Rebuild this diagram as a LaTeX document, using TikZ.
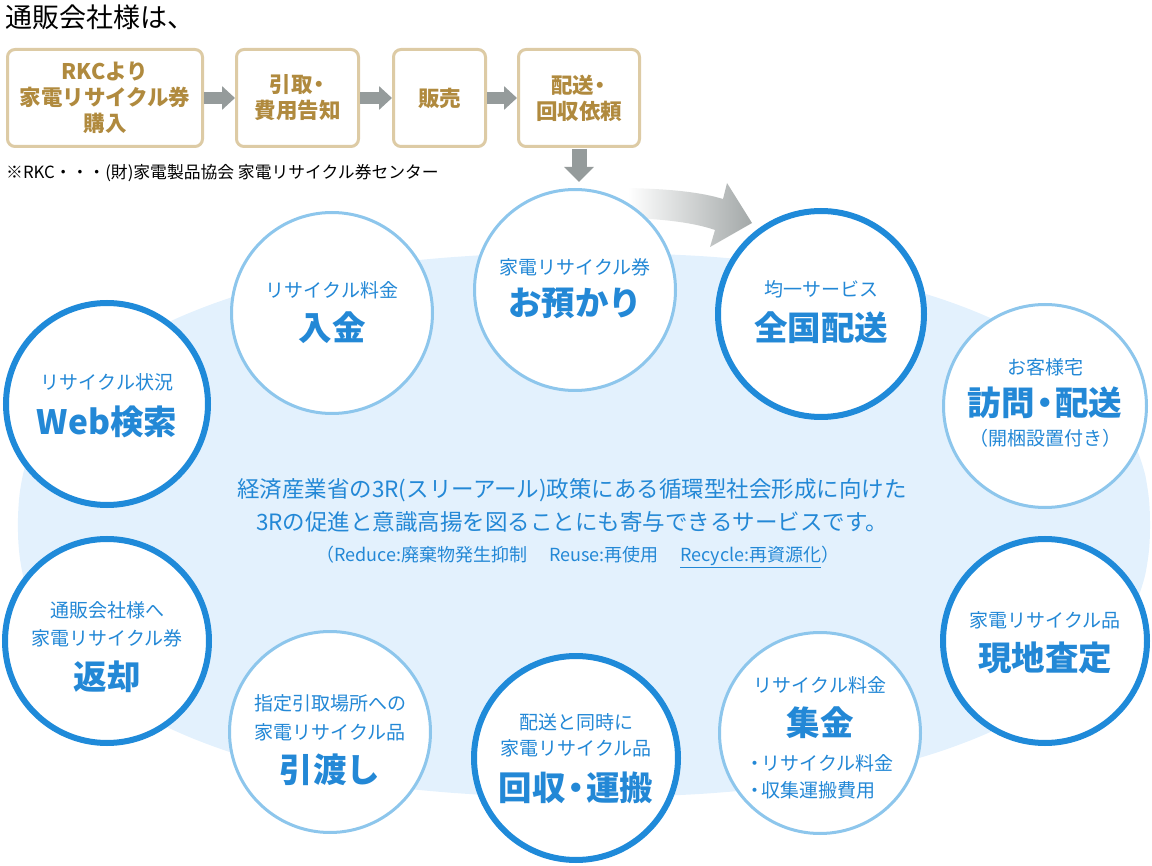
\documentclass[tikz,border=0pt]{standalone}
\usepackage{fontspec}
\setmainfont{Noto Sans CJK JP}
\usetikzlibrary{arrows.meta}
\definecolor{bgblue}{HTML}{E3F1FD}
\definecolor{thinb}{HTML}{8DC6EC}
\definecolor{thickb}{HTML}{1F8AD9}
\definecolor{tblue}{HTML}{2388D6}
\definecolor{boxb}{HTML}{DDCBA5}
\definecolor{boxt}{HTML}{B08A3E}
\definecolor{garrow}{HTML}{959B9B}
\definecolor{sgray}{HTML}{A3A8A8}
\tikzset{
  thincirc/.style={circle, draw=thinb, line width=3pt, fill=white, inner sep=0pt},
  thickcirc/.style={circle, draw=thickb, line width=6pt, fill=white, inner sep=0pt},
  small/.style={text=tblue, font=\fontsize{19}{21}\selectfont, inner sep=0pt, anchor=center},
  big/.style={text=tblue, font=\bfseries\fontsize{33.5}{36}\selectfont, inner sep=0pt, anchor=center},
  stepbox/.style={draw=boxb, line width=3pt, rounded corners=7.5pt, fill=white, text=boxt,
     font=\bfseries\fontsize{21.5}{26}\selectfont, align=center, inner sep=0pt},
  grayarr/.style={draw=garrow, line width=12pt, -{Triangle[width=23pt,length=13pt]}},
  downarr/.style={draw=garrow, line width=15pt, -{Triangle[width=29pt,length=15pt]}},
  centre/.style={text=tblue, inner sep=0pt},
}
\newcommand{\ndot}{\kern-0.2em・\kern-0.2em}
\begin{document}
\begin{tikzpicture}[x=1pt,y=-1pt]
\useasboundingbox (0,0) rectangle (1152,866);
% background super-ellipse
\fill[bgblue] plot[domain=0.3:359.7, samples=240, variable=\t, smooth]
  ({584+566*sign(cos(\t))*abs(cos(\t))^(0.8696)}, {525+272*sign(sin(\t))*abs(sin(\t))^(0.8696)}) -- cycle;
% title
\node[anchor=west, inner sep=0pt, font=\fontsize{27}{29}\selectfont] (title) at (5,17) {通販会社様は、};
% boxes
\node[stepbox, minimum width=195pt, minimum height=97pt] (b1) at (105,98) {RKCより\\家電リサイクル券\\購入};
\node[stepbox, minimum width=122pt, minimum height=97pt] (b2) at (297.5,98) {引取\ndot\\費用告知};
\node[stepbox, minimum width=92pt, minimum height=97pt] (b3) at (439.5,98) {販売};
\node[stepbox, minimum width=121pt, minimum height=97pt] (b4) at (579,98) {配送\ndot\\回収依頼};
\draw[grayarr] (b1.east) -- (b2.west);
\draw[grayarr] (b2.east) -- (b3.west);
\draw[grayarr] (b3.east) -- (b4.west);
\node[anchor=west, inner sep=0pt, font=\fontsize{16.8}{18}\selectfont] (note) at (6,173) {※RKC・・・(財)家電製品協会 家電リサイクル券センター};
% gradient arrow (behind the circles)
\shade[left color=white, right color=sgray, shading=axis]
  (628,188) .. controls (670,189) and (700,192) .. (723,199)
  -- (727,183) -- (752,223) -- (710,247) -- (715,230)
  .. controls (695,223) and (665,219) .. (628,218) -- cycle;
% circles
\node[thincirc, minimum size=201pt] (c1) at (332,313) {};
\node[thincirc, minimum size=201pt] (c2) at (575,290) {};
\node[thickcirc, minimum size=206pt] (c3) at (821,314) {};
\node[thincirc, minimum size=203pt] (c4) at (1045,406) {};
\node[thickcirc, minimum size=202pt] (c5) at (107,404) {};
\node[thickcirc, minimum size=204pt] (c6) at (107,641) {};
\node[thincirc, minimum size=201pt] (c7) at (330,732) {};
\node[thickcirc, minimum size=204pt] (c8) at (576,758) {};
\node[thincirc, minimum size=201pt] (c9) at (820,733) {};
\node[thickcirc, minimum size=204pt] (c10) at (1045,641) {};
% down arrow
\coordinate (c2top) at (b4.south |- c2.north);
\draw[downarr, shorten <=1pt, shorten >=6pt] (b4.south) -- (c2top);
% circle texts
\node[small] (t1a) at (332,290) {リサイクル料金};
\node[big] (t1b) at (332,328) {入金};
\node[small] (t2a) at (575,267) {家電リサイクル券};
\node[big] (t2b) at (575,303) {お預かり};
\node[small] (t3a) at (821,289) {均一サービス};
\node[big] (t3b) at (821,328) {全国配送};
\node[small] (t4a) at (1045,367) {お客様宅};
\node[big] (t4b) at (1045,403) {訪問\ndot 配送};
\node[small] (t4c) at (1045,438) {（開梱設置付き）};
\node[small] (t5a) at (107,382) {リサイクル状況};
\node[big] (t5b) at (107,422) {Web検索};
\node[small] (t6a) at (107,610) {通販会社様へ};
\node[small] (t6b) at (107,638) {家電リサイクル券};
\node[big] (t6c) at (107,677) {返却};
\node[small] (t7a) at (330,703) {指定引取場所への};
\node[small] (t7b) at (330,732) {家電リサイクル品};
\node[big] (t7c) at (330,770) {引渡し};
\node[small] (t8a) at (576,722) {配送と同時に};
\node[small] (t8b) at (576,748) {家電リサイクル品};
\node[big] (t8c) at (576,788) {回収\ndot 運搬};
\node[small] (t9a) at (820,685) {リサイクル料金};
\node[big] (t9b) at (820,723) {集金};
\node[small, anchor=west] (t9c) at (745.5,763) {・\kern-0.15em リサイクル料金};
\node[small, anchor=west] (t9d) at (745.5,790) {・\kern-0.15em 収集運搬費用};
\node[small] (t10a) at (1045,620) {家電リサイクル品};
\node[big] (t10b) at (1045,658) {現地査定};
% centre text
\node[centre, font=\fontsize{22.5}{24}\selectfont] (m1) at (572,490) {経済産業省の3R(スリーアール)政策にある循環型社会形成に向けた};
\node[centre, font=\fontsize{22.5}{24}\selectfont] (m2) at (572,522) {3Rの促進と意識高揚を図ることにも寄与できるサービスです。};
\node[centre, font=\fontsize{18}{20}\selectfont] (m3) at (578,557) {（Reduce:廃棄物発生抑制\hspace{1.2em}Reuse:再使用\hspace{1.2em}\underline{Recycle:再資源化}）};
\end{tikzpicture}
\end{document}
